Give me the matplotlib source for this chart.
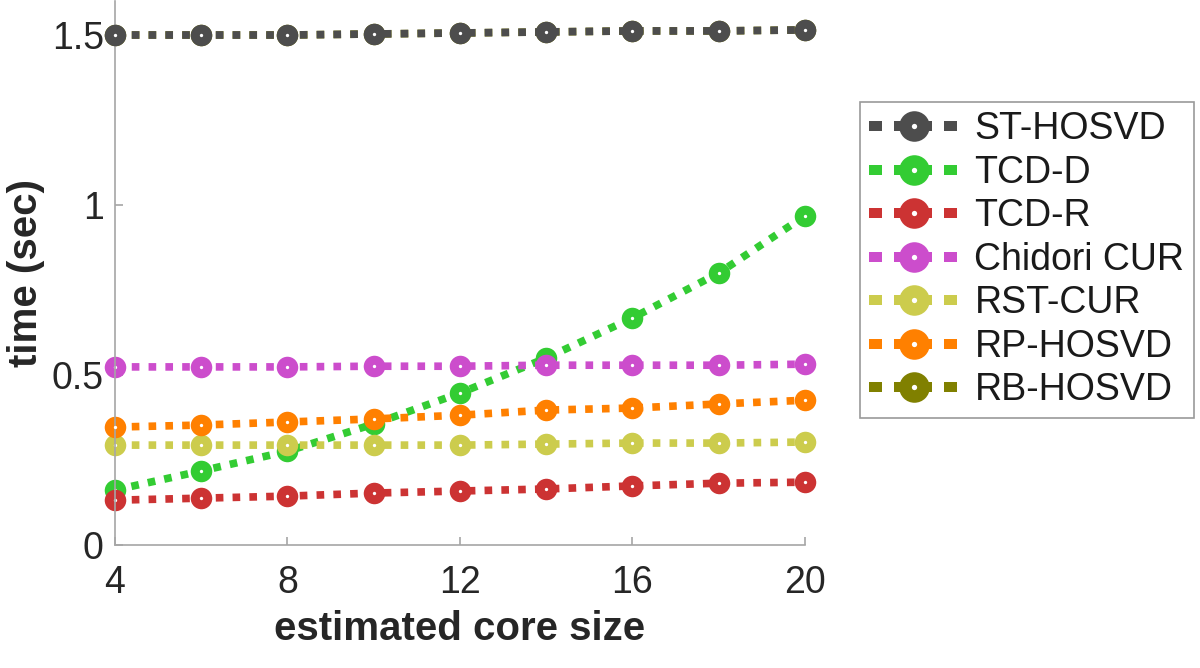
import numpy as np
import matplotlib.pyplot as plt
from matplotlib.lines import Line2D

# datos
core_size = [4, 6, 8, 10, 12, 14, 16, 18, 20]
st_hosvd = [1.500, 1.500, 1.500, 1.503, 1.506, 1.509, 1.512, 1.512, 1.515]
tcd_d = [0.162, 0.218, 0.276, 0.356, 0.447, 0.550, 0.668, 0.800, 0.968]
tcd_r = [0.132, 0.138, 0.144, 0.153, 0.159, 0.165, 0.174, 0.182, 0.185]
chidori_cur = [0.524, 0.524, 0.524, 0.526, 0.526, 0.529, 0.529, 0.529, 0.532]
rst_cur = [0.294, 0.294, 0.294, 0.294, 0.294, 0.297, 0.300, 0.300, 0.303]
rp_hosvd = [0.347, 0.353, 0.362, 0.371, 0.382, 0.397, 0.403, 0.415, 0.426]
rb_hosvd = [1.500, 1.500, 1.500, 1.503, 1.506, 1.509, 1.512, 1.512, 1.515]

names = ['ST-HOSVD', 'TCD-D', 'TCD-R', 'Chidori CUR', 'RST-CUR', 'RP-HOSVD', 'RB-HOSVD']
series = [st_hosvd, tcd_d, tcd_r, chidori_cur, rst_cur, rp_hosvd, rb_hosvd]
colors = ['#4d4d4d', '#33cc33', '#cc3333', '#cc4dcc', '#cccc4d', '#ff8000', '#808000']
zorders = [3, 2.1, 2.2, 2.3, 2.4, 2.5, 1.9]

plt.rcParams['font.family'] = ['Liberation Sans', 'DejaVu Sans']

fig = plt.figure(figsize=(12, 6.68), dpi=100)
ax = fig.add_axes([0.0958, 0.184, 0.5750, 0.8145])

handles = []
for name, ys, c, z in zip(names, series, colors, zorders):
    ax.plot(core_size, ys, linestyle=(0, (1, 1.2)), linewidth=5.5, color=c,
            marker='o', markersize=15.5, markeredgewidth=0,
            markerfacecolor=c, zorder=z, clip_on=False)
    ax.plot(core_size, ys, linestyle='none', marker='o', markersize=2.4,
            markeredgewidth=0, markerfacecolor='white', zorder=z + 0.01,
            clip_on=False)
    # muestras de la leyenda (más grandes, como en el original)
    h1 = Line2D([], [], linestyle=(0, (1.3, 1.2)), linewidth=7.2, color=c,
                marker='o', markersize=22, markeredgewidth=0, markerfacecolor=c)
    h2 = Line2D([], [], linestyle='none', marker='o', markersize=3.8,
                markeredgewidth=0, markerfacecolor='white')
    handles.append((h1, h2))

ax.set_xlim(4, 20)
ax.set_ylim(0, 1.6)
ax.set_xticks([4, 8, 12, 16, 20])
ax.set_yticks([0, 0.5, 1, 1.5])
ax.set_yticklabels(['0', '0.5', '1', '1.5'])

for s in ['top', 'right']:
    ax.spines[s].set_visible(False)
for s in ['left', 'bottom']:
    ax.spines[s].set_color('#a6a6a6')
    ax.spines[s].set_linewidth(1.2)
ax.tick_params(direction='in', length=6, width=1.2, color='#a6a6a6',
               labelsize=27, labelcolor='#262626')
ax.tick_params(axis='x', pad=14)
ax.tick_params(axis='y', pad=8)

ax.set_xlabel('estimated core size', fontsize=29, fontweight='bold',
              color='#262626', labelpad=7)
ax.set_ylabel('time (sec)', fontsize=29, fontweight='bold',
              color='#262626', labelpad=5)

leg = fig.legend(handles, names, loc='upper left',
                 bbox_to_anchor=(860 / 1200, 1 - 102 / 668),
                 bbox_transform=fig.transFigure, fontsize=27,
                 handlelength=2.4, handletextpad=0.4, labelspacing=0.2,
                 borderpad=0.25, borderaxespad=0, fancybox=False,
                 frameon=True, numpoints=1)
leg.get_frame().set_edgecolor('#808080')
leg.get_frame().set_linewidth(1.2)
for t in leg.get_texts():
    t.set_color('#1a1a1a')

fig.savefig('out.png', dpi=100)
